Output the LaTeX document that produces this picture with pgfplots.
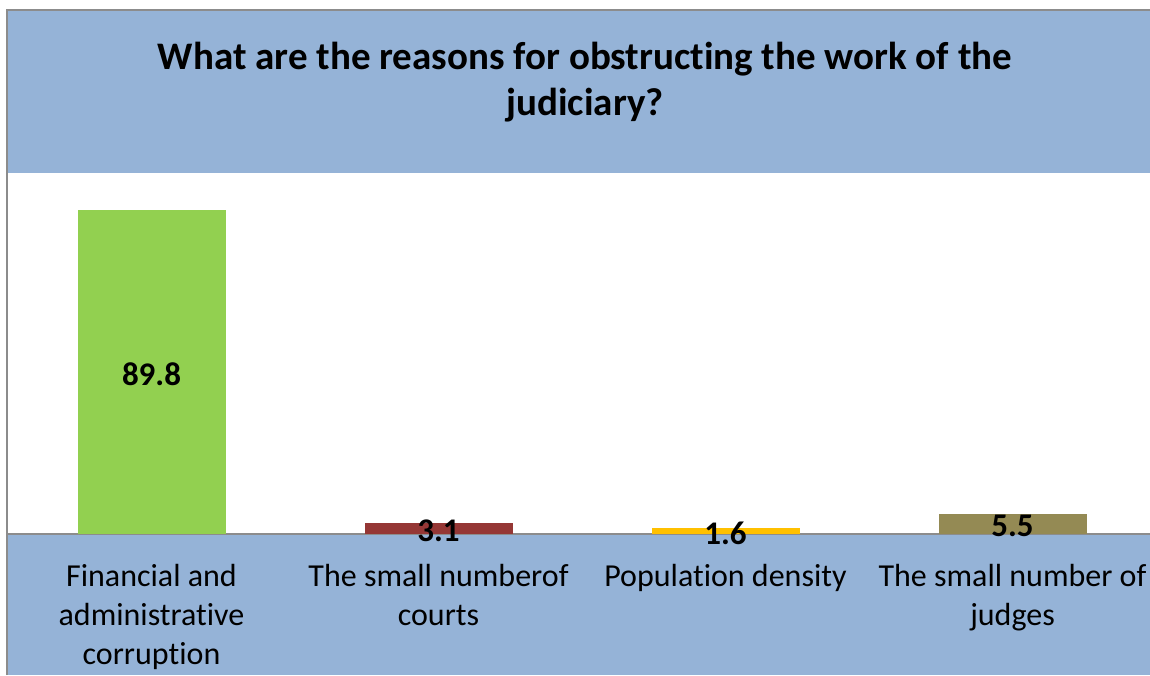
\documentclass[border=0pt]{standalone}
\usepackage{pgfplots}
\pgfplotsset{compat=1.18}
\usepackage{fontspec}
\setmainfont{Carlito}[Ligatures=NoCommon]
\definecolor{bandblue}{HTML}{95B3D7}
\definecolor{barA}{HTML}{92D050}
\definecolor{barB}{HTML}{953735}
\definecolor{barC}{HTML}{FFC000}
\definecolor{barD}{HTML}{948A54}
\definecolor{edge}{HTML}{8C8C8C}
\begin{document}
\begin{tikzpicture}
\path[use as bounding box] (0,0) rectangle (575pt,337.5pt);
\begin{scope}
\clip (0,0) rectangle (575pt,337.5pt);
\fill[bandblue] (3.5pt,0) rectangle (580pt,332.5pt);
\begin{axis}[at={(4pt,70.5pt)}, anchor=south west, scale only axis,
  width=574pt, height=180.5pt,
  xmin=-0.5, xmax=3.5, ymin=0, ymax=100,
  ybar, bar width=74pt, bar shift=0pt,
  axis background/.style={fill=white},
  axis x line*=bottom, axis y line=none,
  x axis line style={edge, line width=1pt},
  xtick={0,1,2,3},
  xticklabels={{Financial and\\administrative\\corruption},{The small numberof\\courts},{Population density},{The small number of\\judges}},
  major tick length=0pt, ytick=\empty,
  xticklabel style={align=center, font=\fontsize{16}{19.5}\selectfont, inner sep=0pt, anchor=north, yshift=-15pt},
  nodes near coords={\pgfmathprintnumber[assume math mode=true]{\pgfplotspointmeta}},
  point meta=rawy,
  visualization depends on=rawy \as \rawy,
  every node near coord/.append style={anchor=center, inner sep=0pt,
    shift={(axis direction cs:0,-\rawy/2)}, yshift=-1pt,
    font=\bfseries\fontsize{16.5}{19.5}\selectfont},
  clip=false]
\addplot[fill=barA, draw=none] coordinates {(0,89.8)};
\addplot[fill=barB, draw=none] coordinates {(1,3.1)};
\addplot[fill=barC, draw=none] coordinates {(2,1.6)};
\addplot[fill=barD, draw=none] coordinates {(3,5.5)};
\end{axis}
\end{scope}
\draw[edge, line width=1pt] (3.5pt,0) -- (3.5pt,332.5pt) -- (580pt,332.5pt);
\node[align=center, font=\bfseries\fontsize{19.5}{23}\selectfont] at (292.5pt,296.5pt)
  {What are the reasons for obstructing the work of the\\judiciary?};
\end{tikzpicture}
\end{document}
